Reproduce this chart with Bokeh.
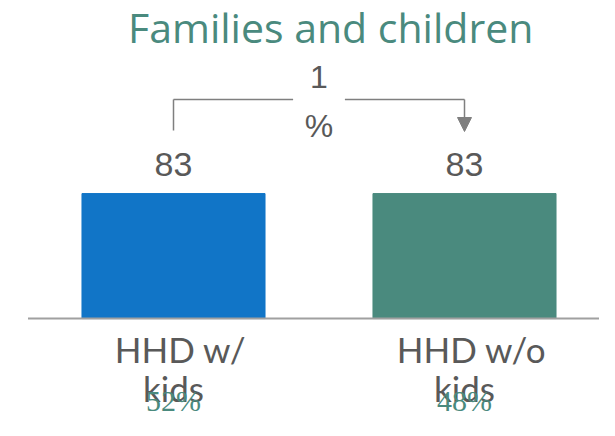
from bokeh.plotting import figure
from bokeh.models import Range1d, Arrow, NormalHead
from bokeh.core.properties import value
from bokeh.embed import file_html
from bokeh.resources import INLINE

# ---- data ----
title_text = "Families and children"
categories = ["HHD w/ kids", "HHD w/o kids"]
values = [83, 83]
shares = ["52%", "48%"]
diff_value = 1
bar_colors = ["#1175C7", "#4A8A7E"]

# ---- styles ----
TEAL = "#4A8A7E"
GREY_TXT = "#595959"
GREY_LINE = "#7F7F7F"
BASE_FIX = 0.39  # baseline correction, fraction of font size

xs = list(range(len(categories)))
line1 = [c.rsplit(" ", 1)[0] for c in categories]
line2 = [c.rsplit(" ", 1)[1] for c in categories]

W, H = 599, 420
p = figure(width=W, height=H, output_backend="svg", toolbar_location=None,
           x_range=Range1d(-0.5945, 1.4639), y_range=Range1d(-67.7, 211.2),
           min_border=0, outline_line_color=None)
p.axis.visible = False
p.grid.visible = False
p.background_fill_color = "white"
p.border_fill_color = "white"


def txt(x, y, text, font, size, color, x_offset=0):
    p.text(x=x, y=y, text=text, x_offset=x_offset, y_offset=-round(BASE_FIX * size),
           text_font=value(font), text_font_size=f"{size}px",
           text_color=color, text_align="center", text_baseline="alphabetic")


# bars
p.vbar(x=xs, top=values, width=0.629, color=bar_colors)

# baseline
p.segment(x0=[xs[0] - 0.5], x1=[xs[-1] + 0.5], y0=[0], y1=[0],
          line_color="#A0A0A0", line_width=2)

# value labels
txt(xs, [v + 10.6 for v in values], [str(v) for v in values],
    "Liberation Sans", 34, GREY_TXT)

# bracket
top = max(values)
yh = top + 62.4
ylow = top + 41.8
mid = (xs[0] + xs[1]) / 2
gap = 0.089
p.segment(x0=[xs[0], xs[0], mid + gap], y0=[ylow, yh, yh],
          x1=[xs[0], mid - gap, xs[1]], y1=[yh, yh, yh],
          line_color=GREY_LINE, line_width=1.5)
p.add_layout(Arrow(x_start=xs[1], y_start=yh, x_end=xs[1], y_end=top + 41.2,
                   line_color=GREY_LINE, line_width=1.5,
                   end=NormalHead(size=14, fill_color=GREY_LINE, line_color=GREY_LINE)))
txt([mid, mid], [top + 69.7, top + 37.2], [str(diff_value), "%"],
    "Liberation Sans", 32, GREY_TXT)

# title
txt([mid + 0.04], [top + 100.3], [title_text], "Open Sans", 41, TEAL)

# category labels
txt(xs, [-29.2] * len(xs), line1, "Lato", 35, GREY_TXT, x_offset=7)
txt(xs, [-55.1] * len(xs), line2, "Lato", 35, GREY_TXT)

# shares
txt(xs, [-62.4] * len(xs), shares, "Liberation Sans Narrow", 30, TEAL)

open("out.html", "w").write(file_html(p, INLINE))
